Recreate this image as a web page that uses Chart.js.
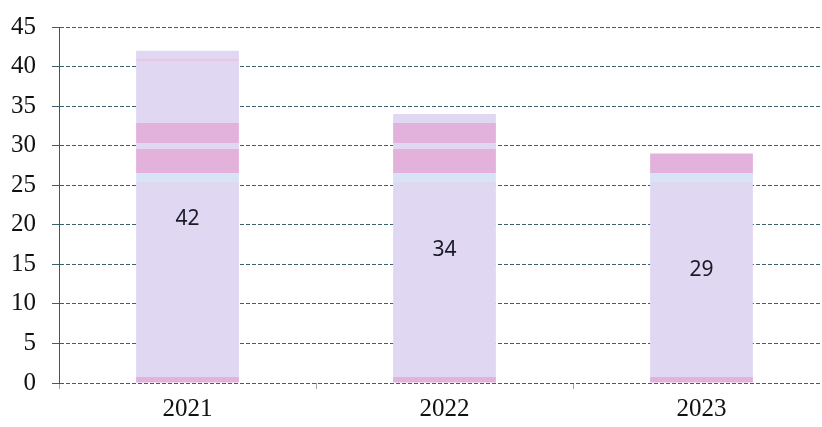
<!DOCTYPE html>
<html>
<head>
<meta charset="utf-8">
<script src="https://cdn.jsdelivr.net/npm/chart.js@4.4.1/dist/chart.umd.min.js"></script>
<style>
  html, body { margin: 0; padding: 0; background: #fff; overflow: hidden; }
  #wrap { width: 830px; height: 427px; }
</style>
</head>
<body>
<div id="wrap"><canvas id="chart" width="830" height="427"></canvas></div>
<script>
// Datos del gráfico
const years = ['2021', '2022', '2023'];
const totals = [42, 34, 29];
const yTicks = [0, 5, 10, 15, 20, 25, 30, 35, 40, 45];

// Colores de las barras (escaneo con franjas rosadas)
const lavender = '#e0d8f3';
const pink = '#e2b2dd';
const paleBlue = '#d8e4f6';
const bands = [
  [0, 0.7, pink],
  [25.4, 26.5, paleBlue],
  [26.6, 29.6, pink],
  [30.4, 32.9, pink],
  [40.7, 41.0, '#eac6e6']
];

function barFill(context) {
  const chart = context.chart;
  const y = chart.scales.y;
  if (!chart.chartArea || !y) return lavender;
  const y0 = y.getPixelForValue(0);
  const yMax = y.getPixelForValue(45);
  const g = chart.ctx.createLinearGradient(0, y0, 0, yMax);
  g.addColorStop(0, lavender);
  bands.forEach(b => {
    const a = b[0] / 45, c = b[1] / 45;
    g.addColorStop(Math.max(0, a - 0.0001), lavender);
    g.addColorStop(a, b[2]);
    g.addColorStop(c, b[2]);
    g.addColorStop(Math.min(1, c + 0.0001), lavender);
  });
  g.addColorStop(1, lavender);
  return g;
}

// Etiquetas dentro de las barras
const valueLabels = {
  id: 'valueLabels',
  afterDatasetsDraw(chart) {
    const ctx = chart.ctx;
    const meta = chart.getDatasetMeta(0);
    ctx.save();
    ctx.font = '21px "Noto Sans", sans-serif';
    ctx.fillStyle = '#1a1a24';
    ctx.textAlign = 'center';
    ctx.textBaseline = 'middle';
    meta.data.forEach((bar, i) => {
      const mid = (bar.y + bar.base) / 2;
      ctx.fillText(String(totals[i]), bar.x, mid + 2);
    });
    ctx.restore();
  }
};

new Chart(document.getElementById('chart').getContext('2d'), {
  type: 'bar',
  data: {
    labels: years,
    datasets: [{
      data: totals,
      backgroundColor: barFill,
      borderWidth: 0,
      barPercentage: 0.4,
      categoryPercentage: 1
    }]
  },
  options: {
    responsive: false,
    animation: false,
    layout: { padding: { top: 27, right: 0, left: 0, bottom: 0 } },
    plugins: {
      legend: { display: false },
      tooltip: { enabled: false }
    },
    scales: {
      x: {
        grid: {
          display: true,
          drawOnChartArea: false,
          offset: true,
          tickLength: 6,
          color: '#9aa6aa'
        },
        border: { display: false },
        ticks: {
          color: '#111',
          font: { family: '"Liberation Serif", "Times New Roman", serif', size: 25 },
          padding: 5
        },
        afterFit(scale) { scale.height = 44; scale.paddingLeft = 0; scale.paddingRight = 0; }
      },
      y: {
        min: 0,
        max: 45,
        afterBuildTicks(scale) {
          scale.ticks = yTicks.map(v => ({ value: v }));
        },
        grid: {
          color: 'rgba(40, 80, 90, 0.9)',
          lineWidth: 1,
          tickLength: 7
        },
        border: {
          display: true,
          color: 'rgba(40, 70, 80, 0.9)',
          dash: [4, 2]
        },
        ticks: {
          color: '#111',
          font: { family: '"Liberation Serif", "Times New Roman", serif', size: 25 },
          padding: 16
        },
        afterFit(scale) { scale.width = 59; scale.paddingTop = 0; scale.paddingBottom = 0; }
      }
    }
  },
  plugins: [valueLabels, {
    id: 'dashedGrid',
    beforeDraw(chart) {
      chart.options.scales.y.grid.borderDash = [5, 2];
    }
  }]
});
</script>
</body>
</html>
